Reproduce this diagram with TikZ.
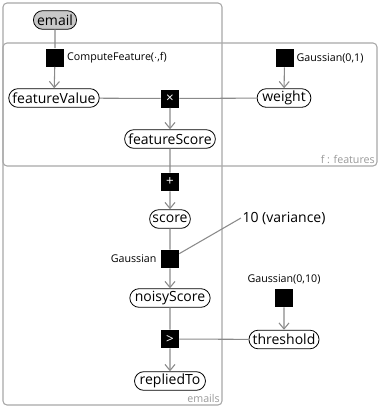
\documentclass[tikz,border=0pt]{standalone}
\usepackage{fontspec}
\setmainfont{Open Sans}
\usetikzlibrary{arrows.meta, positioning, calc, shapes.misc}
\definecolor{colEdge}{HTML}{8A8A8A}
\definecolor{colPlate}{HTML}{A8A8A8}
\definecolor{colPlateText}{HTML}{999999}
\definecolor{colObserved}{HTML}{C8C8C8}

\begin{document}
\begin{tikzpicture}[
    x=0.75pt, y=-0.75pt,
    >={Straight Barb[length=4.5pt, width=7.5pt]},
    varnode/.style={
        rounded rectangle, draw=black, line width=0.6pt, fill=white,
        minimum height=14pt, inner xsep=1.5pt, inner ysep=0.5pt,
        font=\fontsize{10.5}{12}\selectfont
    },
    obsnode/.style={varnode, fill=colObserved},
    factorbox/.style={
        rectangle, fill=black, minimum size=13.5pt, inner sep=0pt,
        text=white, font=\normalsize
    },
    factorlabel/.style={font=\footnotesize, inner sep=1pt},
    platebox/.style={draw=colPlate, rounded corners=3pt, line width=0.8pt},
    platelabel/.style={
        font=\footnotesize, text=colPlateText,
        anchor=south east, inner sep=1.5pt
    },
    edge/.style={draw=colEdge, line width=0.8pt}
]

    \useasboundingbox (0,0) rectangle (379,408);

    % --- PLATES ---
    \draw[platebox] (3,3) rectangle (222,405);
    \node[platelabel] (emailsLabel) at (222,405) {emails};
    \draw[platebox] (3,43) rectangle (377,166);
    \node[platelabel] (featuresLabel) at (377,166) {f : features};

    % --- FEATURE SECTION ---
    \node[obsnode] (email) at (55,20) {email};
    \node[factorbox] (fCompute) at (55,57.5) {};
    \node[factorlabel, right=1pt of fCompute] {ComputeFeature($\cdot$,f)};
    \node[varnode] (featureValue) at (54,98) {featureValue};

    \node[factorbox] (fWeight) at (284.5,58) {};
    \node[factorlabel, right=1pt of fWeight] {Gaussian(0,1)};
    \node[varnode] (weight) at (284,98) {weight};

    \node[factorbox] (fProduct) at (170,98.5) {×};
    \node[varnode] (featureScore) at (170,139) {featureScore};

    % --- SCORE SECTION ---
    \node[factorbox] (fSum) at (170,182) {+};
    \node[varnode] (score) at (170,219) {score};
    \node[factorbox] (fNoise) at (170,259) {};
    \node[factorlabel, left=2pt of fNoise] {Gaussian};
    \node[font=\fontsize{10.5}{12}\selectfont, inner sep=1pt] (variance) at (284,218) {10 (variance)};
    \node[varnode] (noisyScore) at (170,298) {noisyScore};

    % --- THRESHOLD SECTION ---
    \node[factorbox] (fThreshold) at (284,298) {};
    \node[factorlabel, above=2pt of fThreshold] {Gaussian(0,10)};
    \node[varnode] (threshold) at (284,339.5) {threshold};
    \node[factorbox] (fCompare) at (170,339) {>};
    \node[varnode] (repliedTo) at (170,381) {repliedTo};

    % --- EDGES ---
    \draw[edge] (email) -- (fCompute);
    \draw[edge, ->] (fCompute) -- (featureValue);
    \draw[edge, ->] (fWeight) -- (weight);
    \draw[edge] (featureValue) -- (fProduct);
    \draw[edge] (weight) -- (fProduct);
    \draw[edge, ->] (fProduct) -- (featureScore);
    \draw[edge] (featureScore) -- (fSum);
    \draw[edge, ->] (fSum) -- (score);
    \draw[edge] (score) -- (fNoise);
    \draw[edge] (fNoise) -- (variance.west);
    \draw[edge, ->] (fNoise) -- (noisyScore);
    \draw[edge] (noisyScore) -- (fCompare);
    \draw[edge, ->] (fThreshold) -- (threshold);
    \draw[edge] (threshold) -- (fCompare);
    \draw[edge, ->] (fCompare) -- (repliedTo);

\end{tikzpicture}
\end{document}
